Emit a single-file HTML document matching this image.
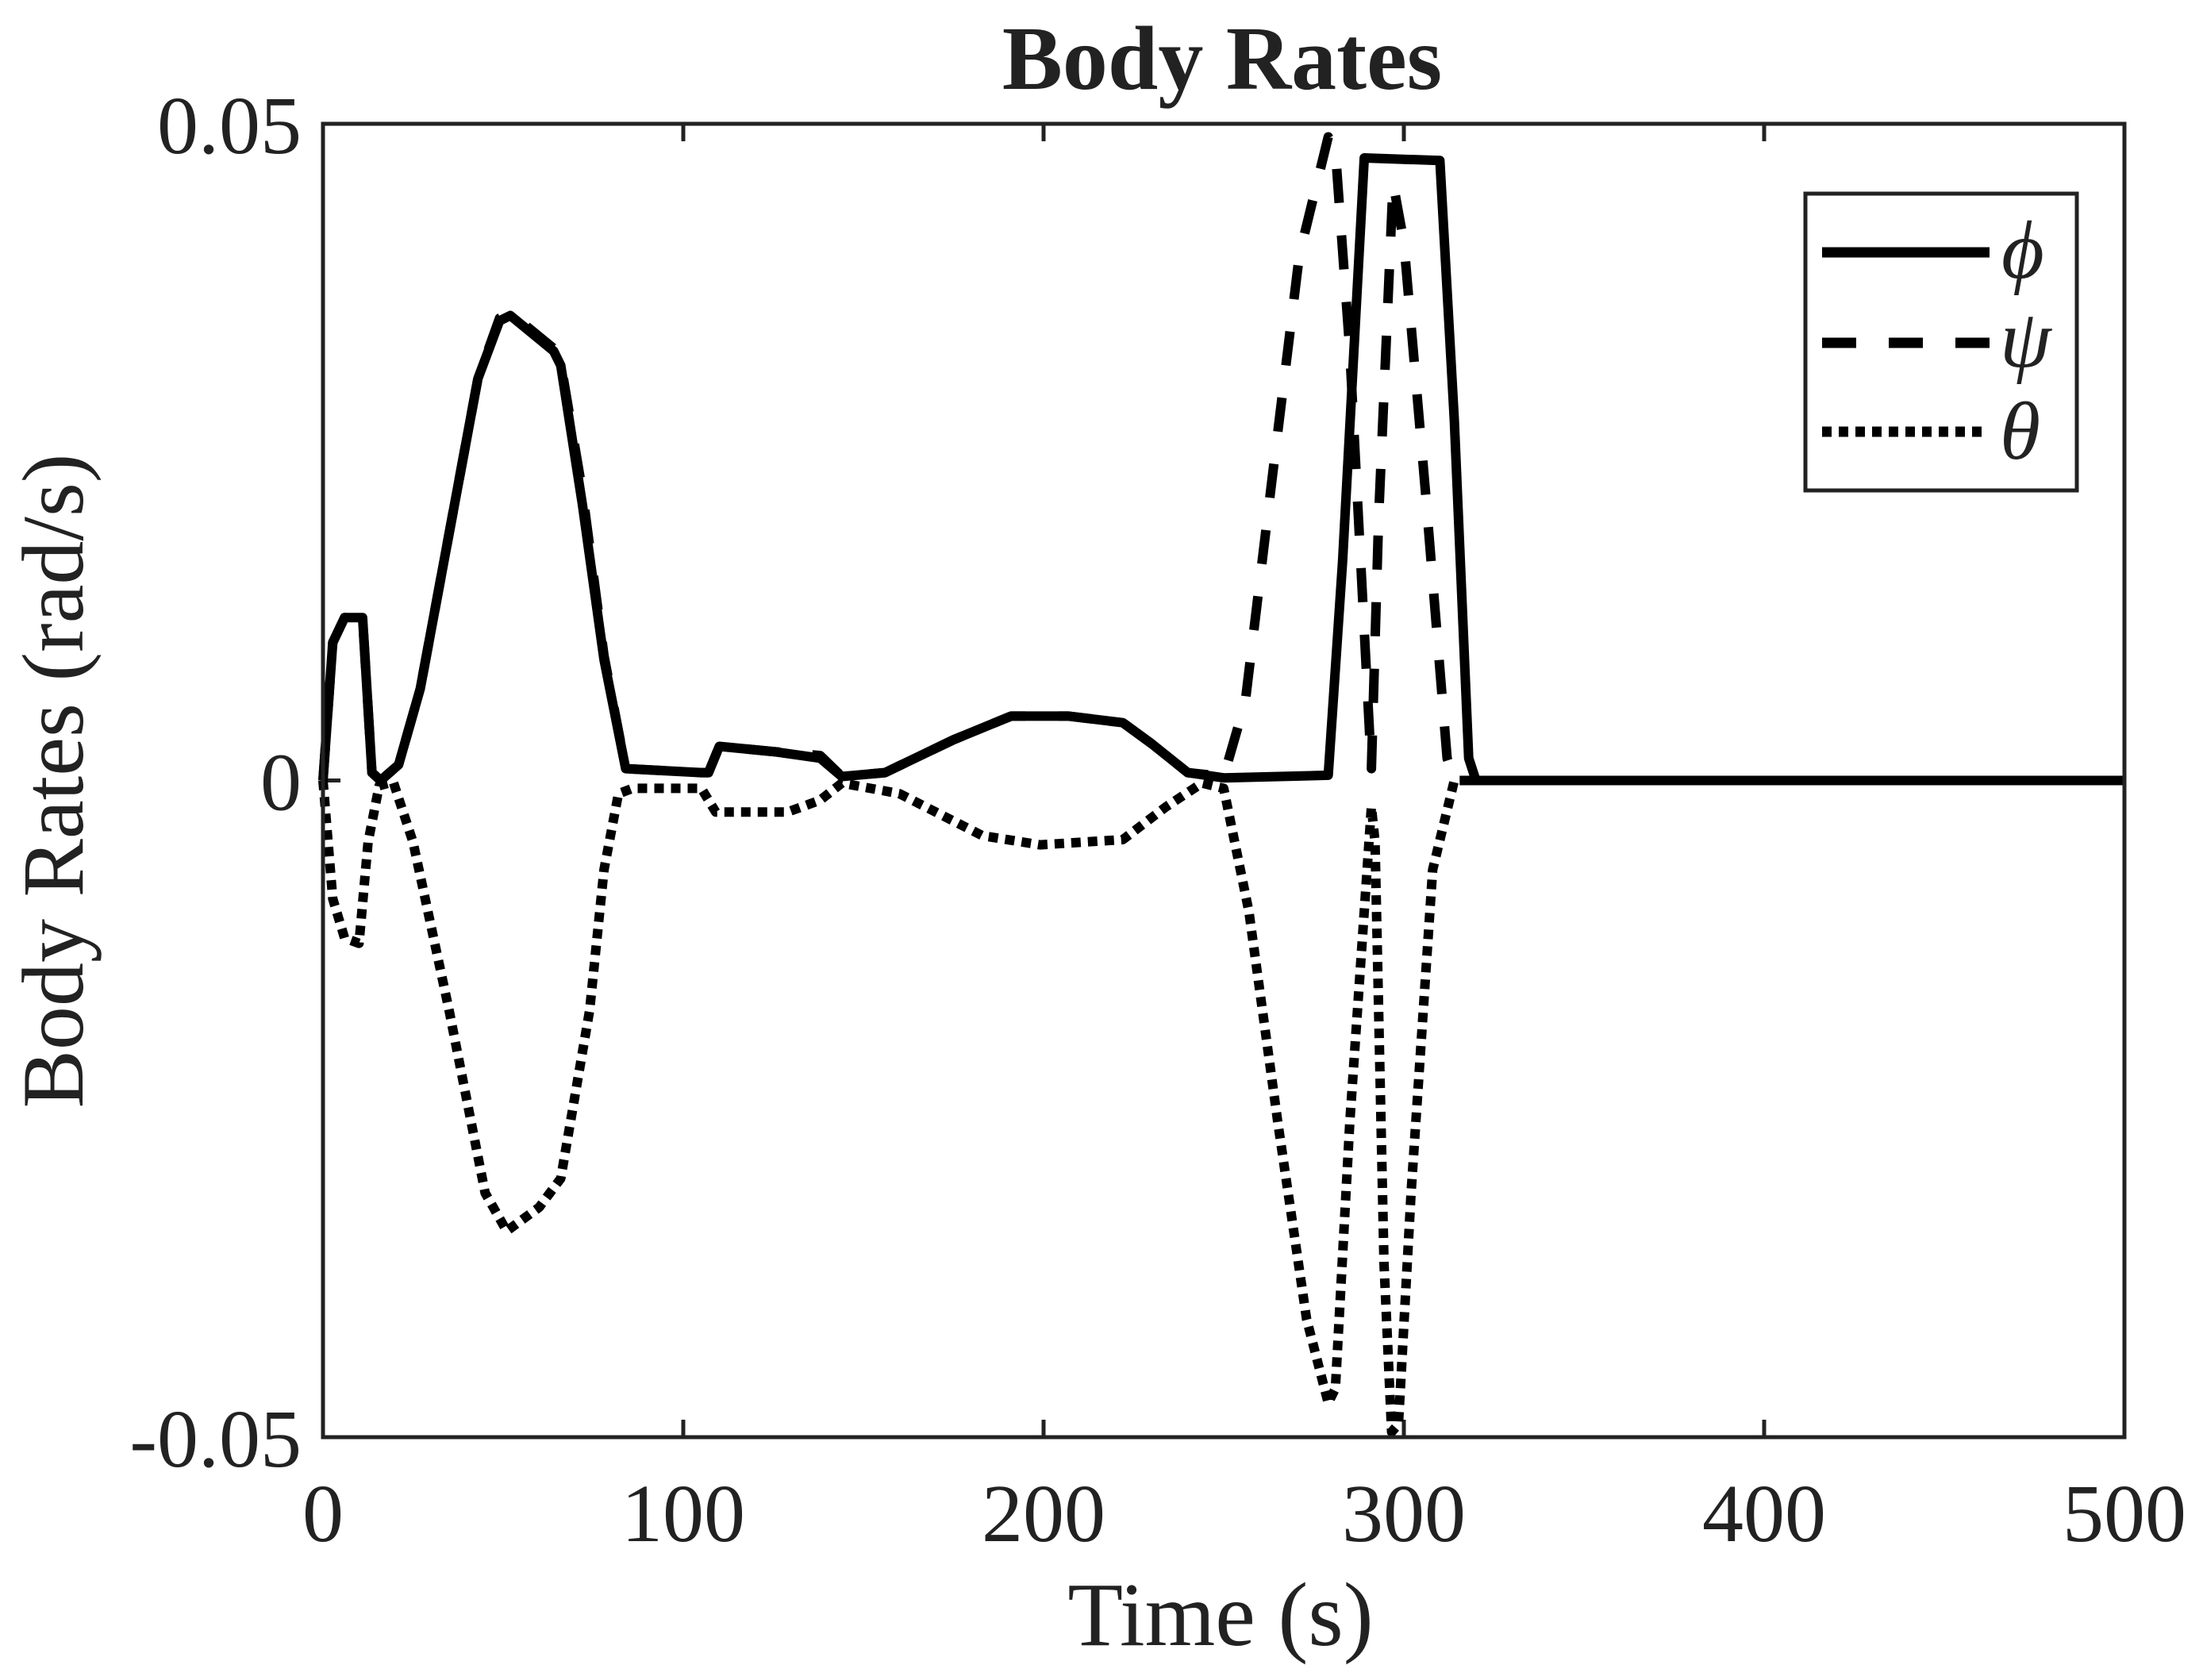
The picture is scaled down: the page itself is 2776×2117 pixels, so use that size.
<!DOCTYPE html>
<html><head><meta charset="utf-8"><style>
html,body{margin:0;padding:0;background:#fff;}
svg{display:block;}
text{font-family:"Liberation Serif","DejaVu Serif",serif;fill:#222;}
</style></head><body>
<svg id="chart" width="2776" height="2117" viewBox="0 0 2776 2117" xmlns="http://www.w3.org/2000/svg">
<rect x="0" y="0" width="2776" height="2117" fill="#fff"/>
<text x="1540" y="112" font-size="114" font-weight="bold" text-anchor="middle">Body Rates</text>
<text x="1538" y="2073" font-size="114" text-anchor="middle">Time (s)</text>
<text transform="translate(104,984) rotate(-90)" font-size="110" text-anchor="middle">Body Rates (rad/s)</text>
<g id="ticks"></g>
<g id="series"></g>
<rect x="407" y="156" width="2270" height="1655" fill="none" stroke="#222" stroke-width="5"/>
<g>
<rect x="2275" y="244" width="342" height="374" fill="#fff" stroke="#222" stroke-width="5"/>
<line x1="2296" y1="318" x2="2507" y2="318" stroke="#000" stroke-width="13"/>
<text x="2522" y="350" font-size="104" font-style="italic">ϕ</text>
<line x1="2296" y1="432" x2="2507" y2="432" stroke="#000" stroke-width="13" stroke-dasharray="43 41"/>
<text x="2520" y="462" font-size="104" font-style="italic">ψ</text>
<line x1="2296" y1="544" x2="2497" y2="544" stroke="#000" stroke-width="13" stroke-dasharray="12 9"/>
<text x="2520" y="578" font-size="104" font-style="italic">θ</text>
</g>
</svg>
<script>
const xTicks = [0, 100, 200, 300, 400, 500];
const yTicks = [-0.05, 0, 0.05];
const yTickLabels = ["-0.05", "0", "0.05"];
const phiT = [0, 2.7, 6, 11, 13.6, 16, 21, 27, 35, 43, 49, 52, 64, 66, 72, 78, 84, 105, 107, 110, 125, 138, 144, 156, 175, 191, 207, 222, 230, 240, 250, 279, 283, 289, 310, 314, 318, 320, 500];
const phiV = [0, 0.0105, 0.0124, 0.0124, 0.0006, 0, 0.0012, 0.007, 0.0188, 0.0306, 0.035, 0.0354, 0.0327, 0.0316, 0.021, 0.0092, 0.0009, 0.0006, 0.0006, 0.0026, 0.0022, 0.0017, 0.0003, 0.0006, 0.0031, 0.0049, 0.0049, 0.0044, 0.0028, 0.0006, 0.0002, 0.0004, 0.0167, 0.0474, 0.0472, 0.0274, 0.0017, 0, 0];
const psiT = [0, 2.7, 6, 11, 13.6, 16, 21, 27, 35, 43, 49, 52, 64, 66, 72, 78, 84, 105, 107, 110, 125, 138, 144, 156, 175, 191, 207, 222, 230, 240, 250, 256, 263, 271, 279, 281, 285, 291, 293, 297, 300, 306, 312, 314, 500];
const psiV = [0, 0.0105, 0.0124, 0.0124, 0.0006, 0, 0.0012, 0.007, 0.0188, 0.0306, 0.0352, 0.0356, 0.0329, 0.0318, 0.022, 0.0095, 0.0009, 0.0006, 0.0006, 0.0026, 0.0022, 0.0019, 0.0003, 0.0006, 0.0031, 0.0049, 0.0049, 0.0044, 0.0028, 0.0006, 0.0003, 0.006, 0.022, 0.040, 0.049, 0.048, 0.0327, 0.0009, 0.02, 0.0455, 0.041, 0.022, 0.0017, 0, 0];
const thetaT = [0, 2.7, 6, 10, 12.5, 15.6, 19.5, 25, 35, 45, 51, 60, 66, 74, 78, 82, 86, 105, 109, 129, 138, 144, 160, 183, 199, 222, 234, 244, 250, 257, 265, 273, 279, 281, 285, 291, 292, 294.5, 296.6, 298.5, 302, 308, 314, 320];
const thetaV = [0, -0.009, -0.012, -0.0124, -0.0047, -0.0004, -0.0001, -0.0047, -0.0175, -0.0314, -0.0343, -0.0325, -0.0303, -0.0175, -0.0068, -0.001, -0.0006, -0.0006, -0.0024, -0.0024, -0.0015, -0.0002, -0.001, -0.0042, -0.0049, -0.0045, -0.002, -0.0002, -0.0006, -0.010, -0.026, -0.041, -0.0474, -0.0463, -0.026, -0.002, -0.0047, -0.0368, -0.0496, -0.049, -0.0314, -0.0068, 0, 0];

const L = 407, R = 2677, T = 156, B = 1811;
const xS = t => L + (t - 0) / 500 * (R - L);
const yS = v => B - (v + 0.05) / 0.1 * (B - T);
const NS = "http://www.w3.org/2000/svg";
const ticksG = document.getElementById('ticks');
const seriesG = document.getElementById('series');

xTicks.forEach(t => {
  const x = xS(t);
  [[B, B - 22], [T, T + 22]].forEach(p => {
    const ln = document.createElementNS(NS, 'line');
    ln.setAttribute('x1', x); ln.setAttribute('x2', x);
    ln.setAttribute('y1', p[0]); ln.setAttribute('y2', p[1]);
    ln.setAttribute('stroke', '#222'); ln.setAttribute('stroke-width', '5');
    
    
    ticksG.appendChild(ln);
  });
  const tx = document.createElementNS(NS, 'text');
  tx.setAttribute('x', x); tx.setAttribute('y', 1942);
  tx.setAttribute('font-size', '104'); tx.setAttribute('text-anchor', 'middle');
  tx.textContent = String(t);
  
  
  ticksG.appendChild(tx);
});
yTicks.forEach((v, i) => {
  const y = yS(v);
  [[L, L + 22], [R, R - 22]].forEach(p => {
    const ln = document.createElementNS(NS, 'line');
    ln.setAttribute('x1', p[0]); ln.setAttribute('x2', p[1]);
    ln.setAttribute('y1', y); ln.setAttribute('y2', y);
    ln.setAttribute('stroke', '#222'); ln.setAttribute('stroke-width', '5');
    
    
    ticksG.appendChild(ln);
  });
  const tx = document.createElementNS(NS, 'text');
  tx.setAttribute('x', 380); tx.setAttribute('y', y + 37);
  tx.setAttribute('font-size', '104'); tx.setAttribute('text-anchor', 'end');
  tx.textContent = yTickLabels[i];
  
  
  ticksG.appendChild(tx);
});

function drawLine(ts, vs, dash, name) {
  const pl = document.createElementNS(NS, 'polyline');
  pl.setAttribute('points', ts.map((t, i) => xS(t).toFixed(1) + ',' + yS(vs[i]).toFixed(1)).join(' '));
  pl.setAttribute('fill', 'none'); pl.setAttribute('stroke', '#000');
  pl.setAttribute('stroke-width', '12'); pl.setAttribute('stroke-linejoin', 'round');
  if (dash) pl.setAttribute('stroke-dasharray', dash);
  
  
  seriesG.appendChild(pl);
}
drawLine(thetaT, thetaV, '12 9', 'theta-line');
drawLine(psiT, psiV, '43 41', 'psi-line');
drawLine(phiT, phiV, null, 'phi-line');
</script>
</body></html>
